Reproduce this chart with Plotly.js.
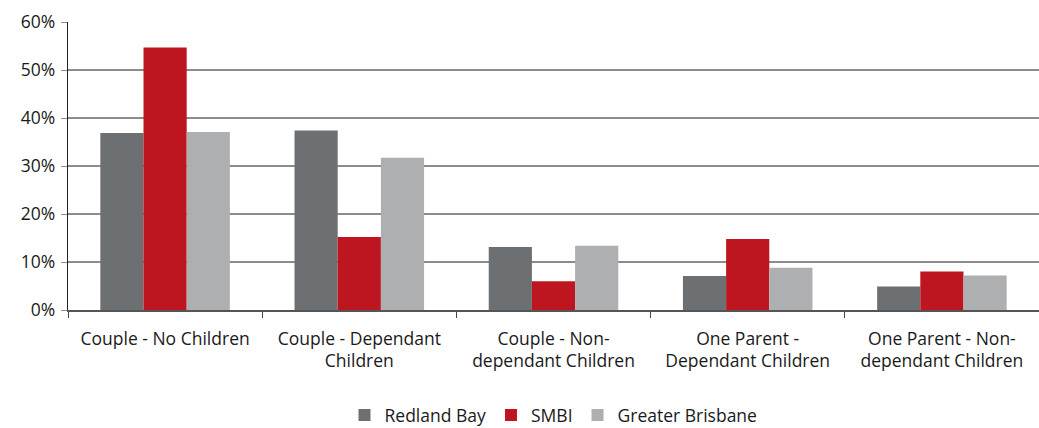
<!DOCTYPE html>
<html><head><meta charset="utf-8">
<script src="https://cdn.plot.ly/plotly-3.0.1.min.js"></script>
<style>html,body{margin:0;padding:0;background:#fff}#chart{width:1039px;height:428px}</style>
</head><body><div id="chart"></div>
<script>
const categories = ["Couple - No Children", "Couple - Dependant<br>Children", "Couple - Non-<br>dependant Children", "One Parent -<br>Dependant Children", "One Parent - Non-<br>dependant Children"];
const redlandBay = [0.369, 0.374, 0.131, 0.071, 0.049];
const smbi = [0.547, 0.152, 0.060, 0.148, 0.080];
const greaterBrisbane = [0.371, 0.317, 0.134, 0.088, 0.072];
const yTicks = [0, 0.1, 0.2, 0.3, 0.4, 0.5, 0.6];
const yTickLabels = ["0%", "10%", "20%", "30%", "40%", "50%", "60%"];

const font = {family: "Open Sans, Noto Sans, sans-serif", size: 17.5, color: "#1a1a1a"};
const traces = [
  {type: "bar", name: "Redland Bay", x: categories, y: redlandBay, marker: {color: "#6D7073"}},
  {type: "bar", name: "SMBI", x: categories, y: smbi, marker: {color: "#BE1620"}},
  {type: "bar", name: "Greater Brisbane", x: categories, y: greaterBrisbane, marker: {color: "#AEAFB1"}}
];
const layout = {
  width: 1039, height: 428,
  margin: {l: 68, r: 0, t: 22, b: 118},
  barmode: "group", bargap: 0.333, bargroupgap: 0,
  font: font,
  paper_bgcolor: "#fff", plot_bgcolor: "#fff",
  showlegend: true,
  legend: {orientation: "h", x: 0.5, xanchor: "center", yref: "container", y: 0.03, yanchor: "middle", font: font, itemwidth: 30, traceorder: "normal"},
  xaxis: {type: "category", showgrid: false, showline: true, linecolor: "#555", linewidth: 1.5,
    ticks: "outside", tickson: "boundaries", ticklen: 6, tickcolor: "#444", tickfont: font,
    ticklabelstandoff: 12, automargin: false, fixedrange: true},
  yaxis: {range: [0, 0.6], tickvals: yTicks, ticktext: yTickLabels, showgrid: true, gridcolor: "#8c8c8c", gridwidth: 1.2,
    showline: true, linecolor: "#222", linewidth: 1.2, ticks: "outside", ticklen: 6, tickcolor: "#8c8c8c",
    zeroline: false, tickfont: font, ticklabelstandoff: 2, automargin: false, fixedrange: true}
};
Plotly.newPlot("chart", traces, layout, {displayModeBar: false, staticPlot: true});
</script>
</body></html>
